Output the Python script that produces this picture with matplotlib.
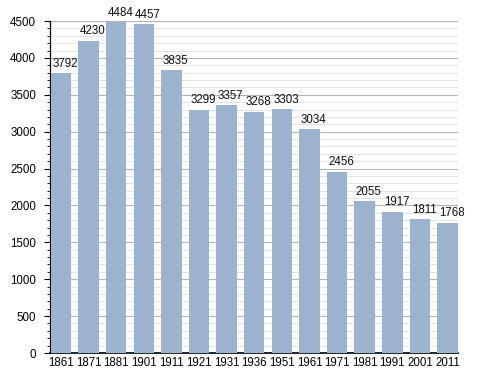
import matplotlib
matplotlib.use("Agg")
import matplotlib.pyplot as plt
from matplotlib.ticker import MultipleLocator

years = ["1861", "1871", "1881", "1901", "1911", "1921", "1931", "1936",
         "1951", "1961", "1971", "1981", "1991", "2001", "2011"]
population = [3792, 4230, 4484, 4457, 3835, 3299, 3357, 3268, 3303, 3034,
              2456, 2055, 1917, 1811, 1768]

plt.rcParams['font.family'] = ['Liberation Sans', 'DejaVu Sans']

fig = plt.figure(figsize=(4.88, 3.73), dpi=100)
ax = fig.add_axes([50/488, 20/373, 408/488, 332/373])

x = list(range(len(years)))
bars = ax.bar(x, population, width=0.74, color='#9bb3cf', zorder=3)

for xi, v in zip(x, population):
    ax.annotate(str(v), (xi, v), xytext=(3, 2.5), textcoords='offset points',
                ha='center', va='bottom', fontsize=8.3, color='#111111')

ax.set_xlim(-0.4, 14.38)
ax.set_ylim(0, 4500)
ax.set_xticks(x)
ax.set_xticklabels(years)
ax.yaxis.set_major_locator(MultipleLocator(500))
ax.yaxis.set_minor_locator(MultipleLocator(100))
ax.grid(axis='y', which='major', color='#b4b4b4', linewidth=0.8, zorder=0)
ax.grid(axis='y', which='minor', color='#e3e3e3', linewidth=0.7, zorder=0)
ax.tick_params(axis='x', length=0, pad=3, labelsize=8.3)
ax.tick_params(axis='y', which='major', length=4, width=0.8, pad=6, labelsize=8.3)
ax.tick_params(axis='y', which='minor', length=2, width=0.6)
for s in ['top', 'right']:
    ax.spines[s].set_visible(False)
ax.spines['left'].set_linewidth(0.9)
ax.spines['bottom'].set_linewidth(1.2)

fig.savefig('out.png', dpi=100)
